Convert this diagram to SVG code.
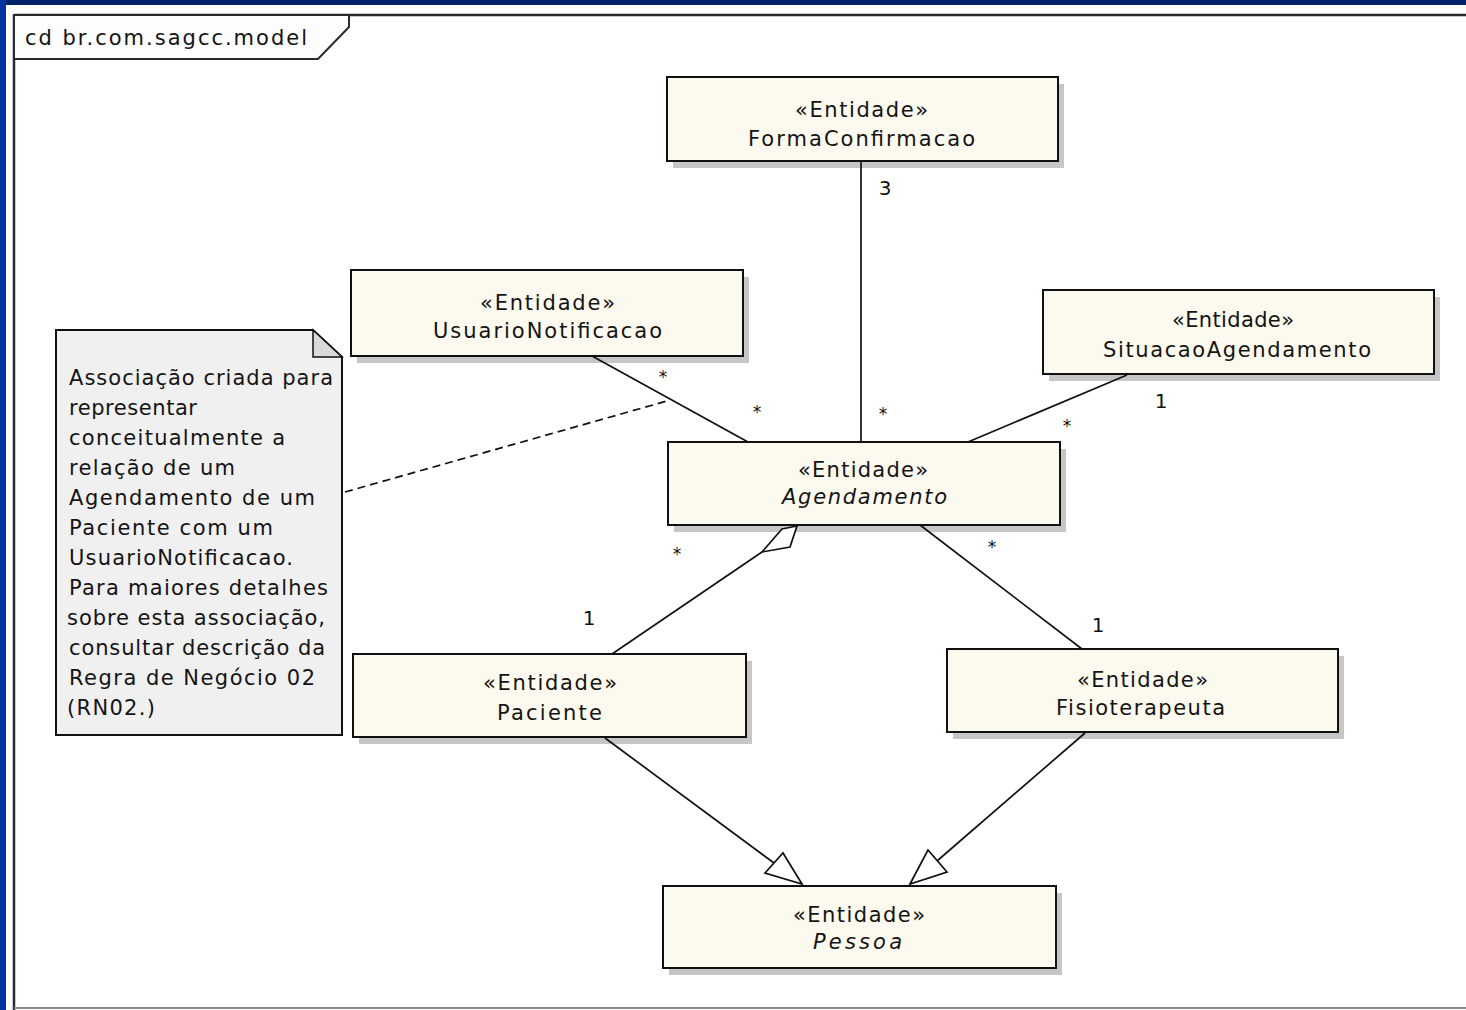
<svg xmlns="http://www.w3.org/2000/svg" width="1466" height="1010" viewBox="0 0 1466 1010">
  <style>
    .txt { font-family: "DejaVu Sans", "Liberation Sans", sans-serif; font-size: 21px; fill: #141414; }
    .it { font-style: italic; }
    .box { fill: #fcf9ee; stroke: #111; stroke-width: 2; }
    .shadow { fill: #c6c6c6; }
    .edge { fill: none; stroke: #111; stroke-width: 1.7; }
    .dash { fill: none; stroke: #111; stroke-width: 1.7; stroke-dasharray: 8 5; }
    .head { fill: #fff; stroke: #111; stroke-width: 1.7; stroke-linejoin: miter; }
    .star { font-family: "DejaVu Sans", "Liberation Sans", sans-serif; font-size: 17px; fill: #111; text-anchor: middle; }
    .mult { font-family: "DejaVu Sans", "Liberation Sans", sans-serif; font-size: 20px; fill: #111; text-anchor: middle; }
  </style>

  <!-- window background and diagram frame -->
  <rect x="0" y="0" width="1466" height="1010" fill="#ffffff"/>
  <rect x="0" y="0" width="1466" height="5" fill="#00226a"/>
  <rect x="0" y="0" width="6" height="1010" fill="#0033a0"/>
  <g id="frame">
    <line x1="14" y1="15" x2="1466" y2="15" stroke="#2a2a2a" stroke-width="2.5"/>
    <line x1="14" y1="15" x2="14" y2="1010" stroke="#2a2a2a" stroke-width="2.5"/>
    <line x1="14" y1="1008" x2="1466" y2="1008" stroke="#8a8a8a" stroke-width="2"/>
    <path d="M14,15 H349 V27 L318,59 H14 Z" fill="#fdfdfd" stroke="#2a2a2a" stroke-width="2"/>
    <text class="txt" x="25" y="45" textLength="282" lengthAdjust="spacing">cd br.com.sagcc.model</text>
  </g>

  <!-- classes -->
  <g id="FormaConfirmacao">
    <rect class="shadow" x="673" y="84" width="391" height="84"/>
    <rect class="box" x="667" y="77" width="391" height="84"/>
    <text class="txt" x="795" y="117" textLength="133" lengthAdjust="spacing">«Entidade»</text>
    <text class="txt" x="748" y="146" textLength="227" lengthAdjust="spacing">FormaConfirmacao</text>
  </g>

  <g id="UsuarioNotificacao">
    <rect class="shadow" x="357" y="277" width="392" height="86"/>
    <rect class="box" x="351" y="270" width="392" height="86"/>
    <text class="txt" x="480" y="310" textLength="135" lengthAdjust="spacing">«Entidade»</text>
    <text class="txt" x="433" y="338" textLength="229" lengthAdjust="spacing">UsuarioNotificacao</text>
  </g>

  <g id="SituacaoAgendamento">
    <rect class="shadow" x="1049" y="297" width="391" height="84"/>
    <rect class="box" x="1043" y="290" width="391" height="84"/>
    <text class="txt" x="1172" y="327" textLength="122" lengthAdjust="spacing">«Entidade»</text>
    <text class="txt" x="1103" y="357" textLength="268" lengthAdjust="spacing">SituacaoAgendamento</text>
  </g>

  <g id="Agendamento">
    <rect class="shadow" x="674" y="449" width="392" height="83"/>
    <rect class="box" x="668" y="442" width="392" height="83"/>
    <text class="txt" x="798" y="477" textLength="130" lengthAdjust="spacing">«Entidade»</text>
    <text class="txt it" x="782" y="504" textLength="165" lengthAdjust="spacing">Agendamento</text>
  </g>

  <g id="Paciente">
    <rect class="shadow" x="359" y="661" width="393" height="83"/>
    <rect class="box" x="353" y="654" width="393" height="83"/>
    <text class="txt" x="483" y="690" textLength="134" lengthAdjust="spacing">«Entidade»</text>
    <text class="txt" x="497" y="720" textLength="105" lengthAdjust="spacing">Paciente</text>
  </g>

  <g id="Fisioterapeuta">
    <rect class="shadow" x="953" y="656" width="391" height="83"/>
    <rect class="box" x="947" y="649" width="391" height="83"/>
    <text class="txt" x="1077" y="687" textLength="131" lengthAdjust="spacing">«Entidade»</text>
    <text class="txt" x="1056" y="715" textLength="169" lengthAdjust="spacing">Fisioterapeuta</text>
  </g>

  <g id="Pessoa">
    <rect class="shadow" x="669" y="893" width="393" height="82"/>
    <rect class="box" x="663" y="886" width="393" height="82"/>
    <text class="txt" x="793" y="922" textLength="132" lengthAdjust="spacing">«Entidade»</text>
    <text class="txt it" x="813" y="949" textLength="89" lengthAdjust="spacing">Pessoa</text>
  </g>

  <!-- note -->
  <g id="note">
    <path d="M56,330 H313 L342,357 V735 H56 Z" fill="#f0f0f0" stroke="#111" stroke-width="2"/>
    <path d="M313,330 V357 H342 Z" fill="#d9d9d9" stroke="#111" stroke-width="1.5"/>
    <text class="txt" x="69" y="385" textLength="264" lengthAdjust="spacing">Associação criada para</text>
    <text class="txt" x="69" y="415" textLength="128" lengthAdjust="spacing">representar</text>
    <text class="txt" x="69" y="445" textLength="216" lengthAdjust="spacing">conceitualmente a</text>
    <text class="txt" x="69" y="475" textLength="166" lengthAdjust="spacing">relação de um</text>
    <text class="txt" x="69" y="505" textLength="246" lengthAdjust="spacing">Agendamento de um</text>
    <text class="txt" x="69" y="535" textLength="204" lengthAdjust="spacing">Paciente com um</text>
    <text class="txt" x="69" y="565" textLength="224" lengthAdjust="spacing">UsuarioNotificacao.</text>
    <text class="txt" x="69" y="595" textLength="259" lengthAdjust="spacing">Para maiores detalhes</text>
    <text class="txt" x="67" y="625" textLength="258" lengthAdjust="spacing">sobre esta associação,</text>
    <text class="txt" x="69" y="655" textLength="256" lengthAdjust="spacing">consultar descrição da</text>
    <text class="txt" x="69" y="685" textLength="246" lengthAdjust="spacing">Regra de Negócio 02</text>
    <text class="txt" x="67" y="715" textLength="88" lengthAdjust="spacing">(RN02.)</text>
  </g>

  <!-- connectors, drawn over the box shadows -->
  <g id="connectors">
    <!-- FormaConfirmacao - Agendamento -->
    <line class="edge" x1="861" y1="161" x2="861" y2="442"/>
    <text class="mult" x="885" y="195">3</text>
    <text class="star" x="883" y="420">*</text>

    <!-- UsuarioNotificacao - Agendamento -->
    <line class="edge" x1="592" y1="356" x2="748" y2="442"/>
    <text class="star" x="663" y="383">*</text>
    <text class="star" x="757" y="418">*</text>

    <!-- SituacaoAgendamento - Agendamento -->
    <line class="edge" x1="1127" y1="375" x2="968" y2="442"/>
    <text class="mult" x="1161" y="408">1</text>
    <text class="star" x="1067" y="432">*</text>

    <!-- Agendamento <>- Paciente (aggregation) -->
    <line class="edge" x1="762" y1="552" x2="612" y2="654"/>
    <polygon class="head" points="797,526 782,529 762,552 790,547"/>
    <text class="star" x="677" y="560">*</text>
    <text class="mult" x="589" y="625">1</text>

    <!-- Agendamento - Fisioterapeuta -->
    <line class="edge" x1="920" y1="525" x2="1082" y2="649"/>
    <text class="star" x="992" y="553">*</text>
    <text class="mult" x="1098" y="632">1</text>

    <!-- Paciente -|> Pessoa -->
    <line class="edge" x1="605" y1="738" x2="774" y2="863"/>
    <polygon class="head" points="802,884 783,853 765,873"/>

    <!-- Fisioterapeuta -|> Pessoa -->
    <line class="edge" x1="1085" y1="733" x2="937" y2="861"/>
    <polygon class="head" points="910,884 928,850 947,872"/>

    <!-- note anchor -->
    <line class="dash" x1="345" y1="492" x2="667" y2="401"/>
  </g>
</svg>
